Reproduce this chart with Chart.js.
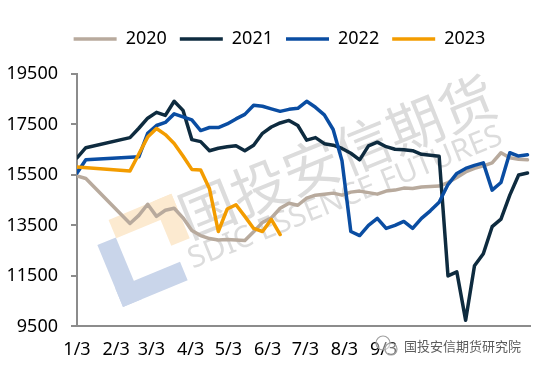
<!DOCTYPE html>
<html lang="zh">
<head>
    <meta charset="UTF-8">
    <title>2020-2023 价格走势</title>
    <script src="https://cdn.jsdelivr.net/npm/chart.js@4.4.0/dist/chart.umd.min.js"></script>
    <style>
        html, body {
            margin: 0;
            padding: 0;
            background: #fff;
        }

        .chart-box {
            position: relative;
            width: 536px;
            height: 368px;
        }
    </style>
</head>
<body>
    <div class="chart-box">
        <canvas id="priceChart"></canvas>
    </div>

    <script>
        // day offsets from 1/3, one point per week
        const weekDays = [0, 7, 14, 21, 28, 35, 42, 49, 56, 63, 70, 77, 84, 91, 98, 105, 112, 119, 126, 133,
            140, 147, 154, 161, 168, 175, 182, 189, 196, 203, 210, 217, 224, 231, 238, 245, 252, 259, 266, 273,
            280, 287, 294, 301, 308, 315, 322, 329, 336, 343, 350, 357];

        const tickDays = [0, 31, 59, 90, 120, 151, 181, 212, 243];
        const tickLabels = ['1/3', '2/3', '3/3', '4/3', '5/3', '6/3', '7/3', '8/3', '9/3'];
        const yTicks = [9500, 11500, 13500, 15500, 17500, 19500];

        const seriesNames = ['2020', '2021', '2022', '2023'];
        const seriesColors = ['#B8AA9D', '#0E2B3F', '#0A4DA2', '#F39C00'];

        const values2020 = [15460, 15360, null, null, null, null, 13580, 13900, 14340, 13860, 14100, 14180, 13800, 13300,
            13100, 12980, 12920, 12940, 12920, 12900, 13250, 13620, 13800, 14180, 14380, 14300, 14580, 14700, 14740,
            14780, 14700, 14820, 14860, 14800, 14740, 14860, 14900, 14980, 14960, 15020, 15040, 15060, 15200, 15400,
            15620, 15760, 15860, 15980, 16380, 16180, 16120, 16100];
        const values2021 = [16180, 16580, null, null, null, null, 16980, 17350, 17750, 17980, 17860, 18420, 18060, 16900,
            16820, 16460, 16560, 16620, 16660, 16460, 16680, 17150, 17400, 17560, 17660, 17460, 16880, 16980, 16740,
            16680, 16550, 16360, 16100, 16650, 16800, 16620, 16520, 16500, 16460, 16320, 16280, 16240, 11500, 11660,
            9740, 11900, 12380, 13450, 13750, 14700, 15500, 15580];
        const values2022 = [15580, 16100, null, null, null, null, null, 16220, 17150, 17460, 17580, 17920, 17800, 17680,
            17260, 17380, 17380, 17520, 17720, 17900, 18260, 18220, 18120, 18020, 18100, 18140, 18420, 18180, 17880,
            17300, 16060, 13260, 13100, 13500, 13780, 13380, 13500, 13660, 13380, 13780, 14080, 14420, 15120, 15560,
            15760, 15880, 15980, 14900, 15200, 16380, 16250, 16300];
        const values2023 = [15820, null, null, null, null, null, 15660, 16330, 17000, 17340, 17100, 16750, 16250, 15720,
            15700, 14950, 13260, 14150, 14320, 13860, 13380, 13260, 13740, 13140];

        const allValues = [values2020, values2021, values2022, values2023];

        function toPoints(values) {
            const pts = [];
            values.forEach((v, i) => pts.push({ x: weekDays[i], y: v }));
            return pts;
        }

        // room under the legend, and nudge the legend a bit to the right
        const legendTweak = {
            id: 'legendTweak',
            beforeInit(chart) {
                const fit = chart.legend.fit;
                chart.legend.fit = function () {
                    fit.bind(chart.legend)();
                    this.height += 16;
                };
            },
            afterLayout(chart) {
                chart.legend.left += 12;
                chart.legend.right += 12;
            }
        };

        // company watermark behind the lines
        const watermark = {
            id: 'watermark',
            beforeDatasetsDraw(chart) {
                const ctx = chart.ctx;
                ctx.save();
                ctx.translate(123, 307);
                ctx.rotate(-22.5 * Math.PI / 180);
                ctx.fillStyle = '#C9D5EA';
                ctx.fillRect(0, -20, 70, 20);
                ctx.fillRect(0, -67, 20, 67);
                ctx.fillStyle = '#FCEAD0';
                ctx.fillRect(20, -86, 68, 20);
                ctx.fillRect(68, -86, 20, 48);
                ctx.restore();

                ctx.save();
                ctx.translate(337, 156);
                ctx.rotate(-22 * Math.PI / 180);
                ctx.fillStyle = 'rgba(150, 150, 150, 0.33)';
                ctx.textAlign = 'center';
                ctx.textBaseline = 'middle';
                ctx.font = '56px "Noto Sans CJK SC"';
                ctx.fillText('国投安信期货', 0, 0);
                ctx.font = '30px "Noto Sans"';
                ctx.fillText('SDIC ESSENCE FUTURES', -8, 42);
                ctx.restore();
            },
            afterDraw(chart) {
                const ctx = chart.ctx;
                ctx.save();
                // small chat icon
                ctx.fillStyle = 'rgba(255, 255, 255, 0.45)';
                ctx.strokeStyle = '#a0a0a0';
                ctx.lineWidth = 1.2;
                ctx.beginPath();
                ctx.arc(383, 343, 7, 0, Math.PI * 2);
                ctx.fill();
                ctx.stroke();
                ctx.beginPath();
                ctx.arc(391, 349, 6, 0, Math.PI * 2);
                ctx.fill();
                ctx.stroke();
                ctx.font = '13px "Noto Sans CJK SC"';
                ctx.textAlign = 'left';
                ctx.textBaseline = 'middle';
                ctx.lineWidth = 3;
                ctx.strokeStyle = '#ffffff';
                ctx.strokeText('国投安信期货研究院', 404, 346);
                ctx.fillStyle = '#5c5c5c';
                ctx.fillText('国投安信期货研究院', 404, 346);
                ctx.restore();
            }
        };

        const datasets = seriesNames.map((name, i) => ({
            label: name,
            data: toPoints(allValues[i]),
            borderColor: seriesColors[i],
            backgroundColor: seriesColors[i],
            borderWidth: 3.5,
            borderCapStyle: 'round',
            borderJoinStyle: 'round',
            pointRadius: 0,
            tension: 0,
            spanGaps: true,
            order: 4 - i
        }));

        new Chart(document.getElementById('priceChart'), {
            type: 'line',
            data: { datasets: datasets },
            plugins: [legendTweak, watermark],
            options: {
                responsive: true,
                maintainAspectRatio: false,
                animation: false,
                layout: {
                    padding: { left: 5, right: 6, top: 17, bottom: -6 }
                },
                plugins: {
                    tooltip: { enabled: false },
                    legend: {
                        position: 'top',
                        labels: {
                            usePointStyle: true,
                            pointStyle: 'line',
                            pointStyleWidth: 43,
                            boxHeight: 18,
                            padding: 13,
                            color: '#000',
                            font: { family: '"Noto Sans"', size: 18 },
                            sort: (a, b) => a.datasetIndex - b.datasetIndex
                        }
                    }
                },
                scales: {
                    x: {
                        type: 'linear',
                        min: 0,
                        max: 359,
                        afterBuildTicks: (axis) => {
                            axis.ticks = tickDays.map(v => ({ value: v }));
                        },
                        ticks: {
                            autoSkip: false,
                            maxRotation: 0,
                            padding: 13,
                            color: '#000',
                            font: { family: '"Noto Sans"', size: 18 },
                            callback: (value) => tickLabels[tickDays.indexOf(value)]
                        },
                        grid: { display: false, drawTicks: false },
                        border: { display: true, color: '#8c8c8c', width: 2 }
                    },
                    y: {
                        min: 9500,
                        max: 19500,
                        afterBuildTicks: (axis) => {
                            axis.ticks = yTicks.map(v => ({ value: v }));
                        },
                        afterFit: (scale) => {
                            scale.width = 72;
                        },
                        ticks: {
                            padding: 13,
                            color: '#000',
                            font: { family: '"Noto Sans"', size: 18 },
                            callback: (value) => String(value)
                        },
                        grid: {
                            drawOnChartArea: false,
                            drawTicks: true,
                            tickLength: 6,
                            color: '#8c8c8c',
                            lineWidth: 2
                        },
                        border: { display: true, color: '#8c8c8c', width: 2 }
                    }
                }
            }
        });
    </script>
</body>
</html>
